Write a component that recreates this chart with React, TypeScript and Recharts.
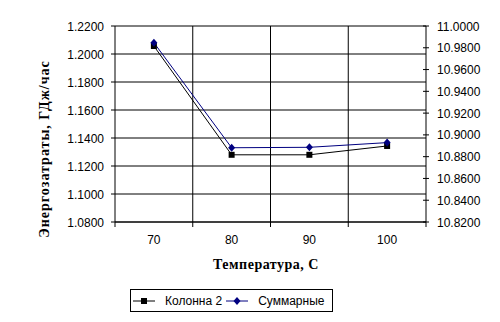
import React from 'react';
import { LineChart, Line, XAxis, YAxis, CartesianGrid } from 'recharts';

// categories and series
const TEMPS = ['70', '80', '90', '100'];
const KOLONNA_2 = [1.2057, 1.128, 1.128, 1.1343];
const SUMMARNYE = [10.9847, 10.8882, 10.8886, 10.8929];
const LEFT_TICKS = [1.08, 1.1, 1.12, 1.14, 1.16, 1.18, 1.2, 1.22];
const RIGHT_TICKS = [10.82, 10.84, 10.86, 10.88, 10.9, 10.92, 10.94, 10.96, 10.98, 11.0];

const SERIES = [
  { key: 'k2', name: 'Колонна 2', color: '#000000', marker: 'square' },
  { key: 'sum', name: 'Суммарные', color: '#000080', marker: 'diamond' },
];

const data = TEMPS.map((t, i) => ({ temp: t, k2: KOLONNA_2[i], sum: SUMMARNYE[i] }));

const W = 500;
const H = 322;
const PLOT_LEFT = 115;
const PLOT_RIGHT = 426;
const BAND = (PLOT_RIGHT - PLOT_LEFT) / TEMPS.length;
const TICK_FONT = '"Liberation Sans", Arial, sans-serif';
const TITLE_FONT = '"Liberation Serif", "Times New Roman", serif';

const Marker = ({ type, cx, cy, color }: any) => {
  if (type === 'square') {
    return <rect x={cx - 3} y={cy - 3} width={6} height={6} fill={color} />;
  }
  return (
    <polygon
      points={`${cx},${cy - 4} ${cx + 3.5},${cy} ${cx},${cy + 4} ${cx - 3.5},${cy}`}
      fill={color}
    />
  );
};

const LeftTick = ({ x, y, payload }: any) => (
  <g>
    <line x1={x - 4} x2={x} y1={y} y2={y} stroke="#000" />
    <text x={x - 11} y={y + 4.5} textAnchor="end" fontSize={12} fontFamily={TICK_FONT} fill="#000">
      {Number(payload.value).toFixed(4)}
    </text>
  </g>
);

const RightTick = ({ x, y, payload }: any) => (
  <g>
    <line x1={x - 3} x2={x + 3} y1={y} y2={y} stroke="#000" />
    <text x={x + 11} y={y + 4.5} textAnchor="start" fontSize={12} fontFamily={TICK_FONT} fill="#000">
      {Number(payload.value).toFixed(4)}
    </text>
  </g>
);

const XTick = ({ x, y, payload, index }: any) => (
  <g>
    <line x1={x - BAND / 2} x2={x - BAND / 2} y1={y} y2={y + 5} stroke="#000" />
    {index === TEMPS.length - 1 && (
      <line x1={x + BAND / 2} x2={x + BAND / 2} y1={y} y2={y + 5} stroke="#000" />
    )}
    <text x={x} y={y + 22} textAnchor="middle" fontSize={12} fontFamily={TICK_FONT} fill="#000">
      {payload.value}
    </text>
  </g>
);

export default function App() {
  return (
    <div style={{ position: 'absolute', left: 0, top: 0, width: W, height: H, background: '#fff' }}>
      <LineChart width={W} height={H} data={data} margin={{ top: 26, right: 0, bottom: 70, left: 0 }}>
        <CartesianGrid
          yAxisId="left"
          stroke="#000"
          verticalCoordinatesGenerator={({ offset }: any) =>
            [1, 2, 3].map((i) => offset.left + (i * offset.width) / TEMPS.length)
          }
        />
        <XAxis
          dataKey="temp"
          height={30}
          padding={{ left: BAND / 2, right: BAND / 2 }}
          interval={0}
          tickSize={0}
          tickMargin={0}
          tickLine={false}
          axisLine={{ stroke: '#000' }}
          tick={<XTick />}
        />
        <YAxis
          yAxisId="left"
          width={PLOT_LEFT}
          domain={[1.08, 1.22]}
          ticks={LEFT_TICKS}
          interval={0}
          tickSize={0}
          tickMargin={0}
          tickLine={false}
          axisLine={{ stroke: '#000' }}
          tick={<LeftTick />}
        />
        <YAxis
          yAxisId="right"
          orientation="right"
          width={W - PLOT_RIGHT}
          domain={[10.82, 11.0]}
          ticks={RIGHT_TICKS}
          interval={0}
          tickSize={0}
          tickMargin={0}
          tickLine={false}
          axisLine={{ stroke: '#000' }}
          tick={<RightTick />}
        />
        {SERIES.map((s) => (
          <Line
            key={s.key}
            yAxisId={s.key === 'k2' ? 'left' : 'right'}
            type="linear"
            dataKey={s.key}
            name={s.name}
            stroke={s.color}
            strokeWidth={1}
            isAnimationActive={false}
            activeDot={false}
            dot={(p: any) => (
              <Marker key={`${s.key}-${p.index}`} type={s.marker} cx={p.cx} cy={p.cy} color={s.color} />
            )}
          />
        ))}
      </LineChart>

      {/* axis titles */}
      <div
        style={{
          position: 'absolute',
          left: 45,
          top: 149,
          transform: 'translate(-50%, -50%) rotate(-90deg)',
          whiteSpace: 'nowrap',
          fontFamily: TITLE_FONT,
          fontWeight: 'bold',
          fontSize: 14,
          letterSpacing: 1,
          color: '#000',
        }}
      >
        Энергозатраты, ГДж/час
      </div>
      <div
        style={{
          position: 'absolute',
          left: 0,
          width: 532,
          top: 257,
          textAlign: 'center',
          fontFamily: TITLE_FONT,
          fontWeight: 'bold',
          fontSize: 14,
          letterSpacing: 0.5,
          color: '#000',
        }}
      >
        Температура, С
      </div>

      {/* legend */}
      <div
        style={{
          position: 'absolute',
          left: 130,
          top: 289,
          width: 201,
          height: 21,
          border: '1px solid #000',
          display: 'flex',
          alignItems: 'center',
          fontFamily: TICK_FONT,
          fontSize: 12,
          color: '#000',
        }}
      >
        {SERIES.map((s, i) => (
          <div key={s.key} style={{ display: 'flex', alignItems: 'center', marginLeft: i === 0 ? 2 : 4 }}>
            <svg width={22} height={10}>
              <line x1={0} x2={22} y1={5} y2={5} stroke={s.color} />
              <Marker type={s.marker} cx={11} cy={5} color={s.color} />
            </svg>
            <span style={{ marginLeft: 10 }}>{s.name}</span>
          </div>
        ))}
      </div>
    </div>
  );
}
